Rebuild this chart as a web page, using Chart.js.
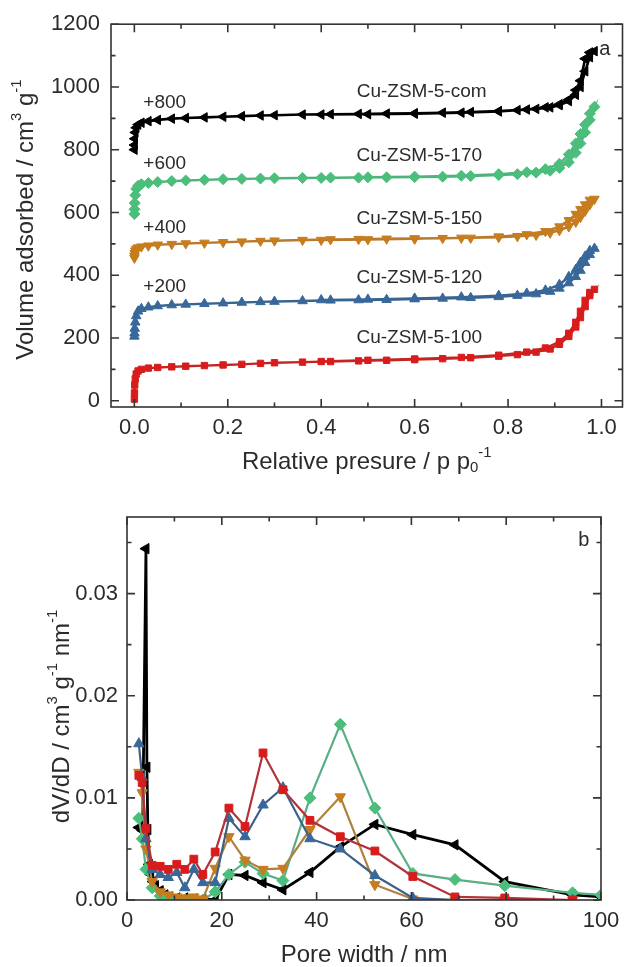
<!DOCTYPE html>
<html>
<head>
<meta charset="utf-8">
<script src="https://cdn.jsdelivr.net/npm/chart.js@4.4.0/dist/chart.umd.min.js"></script>
<style>
body { margin: 0; background: #fff; }
#wrap { position: relative; width: 629px; height: 967px; }
canvas { position: absolute; left: 0; }
</style>
</head>
<body>
<div id="wrap">
  <canvas id="isoChart" width="629" height="480" style="top:0"></canvas>
  <canvas id="psdChart" width="629" height="487" style="top:480px"></canvas>
</div>
<script>
// ---- (a) isotermas N2: pressão relativa ----
var pAds = [0.0001, 0.0003, 0.0008, 0.002, 0.004, 0.008, 0.015, 0.03, 0.05, 0.08, 0.11, 0.15, 0.19, 0.23, 0.27, 0.3,
            0.36, 0.42, 0.48, 0.54, 0.6, 0.66, 0.72, 0.78, 0.82, 0.86, 0.89, 0.91, 0.93, 0.945, 0.955, 0.965, 0.975, 0.985];
var pDes = [0.975, 0.965, 0.955, 0.945, 0.93, 0.91, 0.88, 0.84, 0.78, 0.7, 0.6, 0.5, 0.4];

// volumes como aparecem no gráfico (já com o deslocamento +200, +400...)
var v100Ads = [5, 25, 50, 70, 85, 95, 100, 104, 106, 108, 110, 112, 114, 116, 119, 121,
               123, 125, 127, 129, 131, 134, 137, 142, 147, 155, 165, 180, 205, 235, 265, 300, 335, 355];
var v100Des = [345, 320, 285, 250, 215, 188, 168, 155, 145, 138, 133, 129, 125];
var v120Ads = [205, 215, 230, 250, 270, 285, 293, 298, 302, 305, 307, 309, 311, 313, 315, 316,
               318, 320, 321, 322, 324, 326, 328, 331, 335, 340, 348, 358, 375, 395, 415, 440, 465, 485];
var v120Des = [478, 460, 440, 418, 395, 370, 352, 342, 335, 330, 326, 323, 321];
var v150Ads = [455, 462, 470, 478, 484, 488, 491, 494, 497, 499, 501, 503, 505, 507, 509, 510,
               512, 514, 515, 516, 517, 518, 519, 521, 524, 528, 535, 543, 555, 570, 585, 605, 625, 643];
var v150Des = [640, 625, 610, 595, 575, 555, 540, 530, 523, 519, 516, 514, 512];
var v170Ads = [595, 610, 630, 655, 675, 685, 690, 694, 697, 700, 702, 704, 706, 707, 708, 709,
               710, 711, 711, 712, 713, 714, 716, 719, 722, 727, 733, 742, 760, 790, 820, 855, 895, 937];
var v170Des = [915, 880, 850, 820, 785, 755, 738, 728, 722, 717, 714, 712, 710];
var vComAds = [800, 815, 835, 855, 870, 880, 886, 891, 895, 899, 901, 903, 905, 907, 909, 910,
               912, 913, 914, 915, 916, 918, 920, 923, 926, 930, 935, 942, 955, 975, 1000, 1050, 1095, 1114];
var vComDes = [1110, 1090, 1020, 990, 960, 945, 935, 928, 922, 918, 915, 913, 912];

var ticksPIso = [0, 0.2, 0.4, 0.6, 0.8, 1.0];
var ticksVIso = [0, 200, 400, 600, 800, 1000, 1200];

// ---- (b) distribuição de poros ----
var dPoro = [2.5, 3.2, 4.0, 5.3, 7.0, 8.7, 10.5, 12.2, 14.1, 16.0, 18.6, 21.5, 24.9, 28.7, 32.9, 38.6, 45.0, 52.3, 60.3, 69.2, 79.7, 94.0];
var psd100 = [0.0122, 0.0115, 0.0070, 0.0034, 0.0033, 0.0030, 0.0035, 0.0030, 0.0040, 0.0025, 0.0047, 0.0090, 0.0072, 0.0144, 0.0108, 0.0078, 0.0062, 0.0048, 0.0023, 0.0003, 0.0002, 0.0000];
var psd120 = [0.0153, 0.0120, 0.0060, 0.0030, 0.0025, 0.0022, 0.0027, 0.0012, 0.0030, 0.0017, 0.0017, 0.0080, 0.0062, 0.0093, 0.0110, 0.0060, 0.0050, 0.0024, 0.0002, 0.0000, 0.0000, 0.0000];
var psd150 = [0.0125, 0.0105, 0.0050, 0.0018, 0.0008, 0.0005, 0.0003, 0.0002, 0.0003, 0.0001, 0.0031, 0.0062, 0.0039, 0.0030, 0.0031, 0.0069, 0.0101, 0.0015, 0.0001, 0.0000, 0.0000, 0.0000];
var dPoro170 = [2.5, 3.2, 4.0, 5.3, 7.0, 8.7, 10.5, 12.2, 14.1, 16.0, 18.6, 21.5, 24.9, 28.7, 32.9, 38.6, 45.0, 52.3, 60.3, 69.2, 79.7, 94.0, 100];
var psd170 = [0.0080, 0.0060, 0.0030, 0.0012, 0.0004, 0.0002, 0.0000, 0.0000, 0.0000, 0.0000, 0.0008, 0.0025, 0.0037, 0.0026, 0.0019, 0.0100, 0.0172, 0.0090, 0.0026, 0.0020, 0.0014, 0.0007, 0.0005];
var dPoroCom = [2.5, 3.3, 4.0, 4.2, 4.4, 4.7, 5.0, 5.5, 6.0, 7.0, 8.0, 9.0, 10.5, 12.2, 14.1, 16.0, 18.6, 21.5, 24.9, 28.7, 32.9, 38.6, 45.0, 52.3, 60.3, 69.2, 79.7, 94.0, 100];
var psdCom = [0.0071, 0.0068, 0.0344, 0.0130, 0.0069, 0.0035, 0.0025, 0.0018, 0.0014, 0.0009, 0.0005, 0.0003, 0.0002, 0.0002, 0.0001, 0.0001, 0.0000, 0.0025, 0.0024, 0.0017, 0.0010, 0.0027, 0.0052, 0.0074, 0.0064, 0.0054, 0.0018, 0.0005, 0.0003];

var ticksDPsd = [0, 20, 40, 60, 80, 100];
var ticksVPsd = [0, 0.01, 0.02, 0.03];

var FONTE = "'Liberation Sans', Arial, sans-serif";
Chart.defaults.font.family = FONTE;
Chart.defaults.color = '#2b2b2b';

function pares(xs, ys) {
    return xs.map(function (x, i) { return { x: x, y: ys[i] }; });
}

function serie(dados, cor, corLinha, estilo, rot, raio, larg) {
    return {
        data: dados,
        showLine: true,
        borderColor: corLinha,
        backgroundColor: cor,
        pointBorderColor: cor,
        pointBackgroundColor: cor,
        pointStyle: estilo,
        rotation: rot,
        pointRadius: raio,
        borderWidth: larg,
        pointBorderWidth: 1
    };
}

// texto com sobrescrito/subscrito: partes = [[texto, 0|1|-1], ...]
function textoRico(ctx, partes, x, y, tam, vertical) {
    ctx.save();
    ctx.translate(x, y);
    if (vertical) ctx.rotate(-Math.PI / 2);
    var total = 0;
    partes.forEach(function (p) {
        ctx.font = (p[1] ? tam * 0.62 : tam) + 'px ' + FONTE;
        total += ctx.measureText(p[0]).width;
    });
    var cx = -total / 2;
    ctx.fillStyle = '#2b2b2b';
    ctx.textBaseline = 'middle';
    ctx.textAlign = 'left';
    partes.forEach(function (p) {
        ctx.font = (p[1] ? tam * 0.62 : tam) + 'px ' + FONTE;
        var dy = p[1] === 1 ? -tam * 0.38 : (p[1] === -1 ? tam * 0.25 : 0);
        ctx.fillText(p[0], cx, dy);
        cx += ctx.measureText(p[0]).width;
    });
    ctx.restore();
}

function marcas(ctx, escala, area, horiz, passoMenor) {
    var maiores = escala.ticks.map(function (t) { return t.value; });
    var k0 = Math.ceil(escala.min / passoMenor - 1e-9);
    for (var k = k0; k * passoMenor <= escala.max + 1e-9; k++) {
        var v = k * passoMenor;
        var maior = maiores.some(function (m) { return Math.abs(m - v) < passoMenor * 0.01; });
        var len = maior ? 8 : 4.5;
        var p = escala.getPixelForValue(v);
        ctx.beginPath();
        if (horiz) {
            ctx.moveTo(p, area.bottom); ctx.lineTo(p, area.bottom - len);
            ctx.moveTo(p, area.top); ctx.lineTo(p, area.top + len);
        } else {
            ctx.moveTo(area.left, p); ctx.lineTo(area.left + len, p);
            ctx.moveTo(area.right, p); ctx.lineTo(area.right - len, p);
        }
        ctx.stroke();
    }
}

var moldura = {
    id: 'moldura',
    afterDraw: function (chart, args, opts) {
        var ctx = chart.ctx, a = chart.chartArea;
        ctx.save();
        ctx.strokeStyle = '#333';
        ctx.lineWidth = 1.6;
        ctx.strokeRect(a.left, a.top, a.right - a.left, a.bottom - a.top);
        marcas(ctx, chart.scales.x, a, true, opts.menorX);
        marcas(ctx, chart.scales.y, a, false, opts.menorY);
        ctx.restore();

        // rótulos dentro do gráfico
        ctx.save();
        ctx.fillStyle = '#2b2b2b';
        ctx.textAlign = 'center';
        ctx.textBaseline = 'middle';
        (opts.rotulos || []).forEach(function (r) {
            ctx.font = r[3] + 'px ' + FONTE;
            ctx.fillText(r[0], chart.scales.x.getPixelForValue(r[1]), chart.scales.y.getPixelForValue(r[2]));
        });
        ctx.restore();

        // títulos dos eixos
        textoRico(ctx, opts.tituloX, (a.left + a.right) / 2, a.bottom + 55, 24, false);
        textoRico(ctx, opts.tituloY, opts.tituloYx, (a.top + a.bottom) / 2 + opts.tituloYdy, 24, true);
    }
};

function eixos(xMin, xMax, xTicks, xDec, yMin, yMax, yTicks, yDec, alturaX, larguraY, padY) {
    return {
        x: {
            type: 'linear', min: xMin, max: xMax,
            border: { display: false },
            grid: { display: false, drawTicks: false },
            afterBuildTicks: function (s) { s.ticks = xTicks.map(function (v) { return { value: v }; }); },
            ticks: {
                padding: 8, maxRotation: 0, autoSkip: false,
                font: { size: 22 },
                callback: function (v) { return Number(v).toFixed(xDec); }
            },
            afterFit: function (s) { s.height = alturaX; }
        },
        y: {
            type: 'linear', min: yMin, max: yMax,
            border: { display: false },
            grid: { display: false, drawTicks: false },
            afterBuildTicks: function (s) { s.ticks = yTicks.map(function (v) { return { value: v }; }); },
            ticks: {
                padding: padY, autoSkip: false,
                font: { size: 22 },
                callback: function (v) { return Number(v).toFixed(yDec); }
            },
            afterFit: function (s) { s.width = larguraY; }
        }
    };
}

// Gráfico (a)
var ctxIso = document.getElementById('isoChart').getContext('2d');
var isoChart = new Chart(ctxIso, {
    type: 'scatter',
    data: {
        datasets: [
            serie(pares(pAds.concat(pDes), v100Ads.concat(v100Des)), '#d81c1c', '#c42424', 'rect', 0, 4.5, 2.4),
            serie(pares(pAds.concat(pDes), v120Ads.concat(v120Des)), '#38689a', '#3a6490', 'triangle', 0, 5.5, 2.4),
            serie(pares(pAds.concat(pDes), v150Ads.concat(v150Des)), '#c77c1e', '#b97a2c', 'triangle', 180, 5.5, 2.4),
            serie(pares(pAds.concat(pDes), v170Ads.concat(v170Des)), '#4cbe7c', '#4fb27c', 'rectRot', 0, 5.5, 2.4),
            serie(pares(pAds.concat(pDes), vComAds.concat(vComDes)), '#000', '#000', 'triangle', 270, 5.5, 2.6)
        ]
    },
    options: {
        responsive: false,
        animation: false,
        layout: { padding: { top: 23, right: 2, left: 0, bottom: 0 } },
        scales: eixos(-0.05, 1.045, ticksPIso, 1, -20, 1200, ticksVIso, 0, 73, 111, 11),
        plugins: {
            legend: { display: false },
            tooltip: { enabled: false },
            moldura: {
                menorX: 0.1, menorY: 100,
                rotulos: [
                    ['+800', 0.065, 950, 19], ['+600', 0.065, 755, 19],
                    ['+400', 0.065, 552, 19], ['+200', 0.065, 362, 19],
                    ['Cu-ZSM-5-com', 0.615, 984, 19], ['Cu-ZSM-5-170', 0.61, 781, 19],
                    ['Cu-ZSM-5-150', 0.61, 581, 19], ['Cu-ZSM-5-120', 0.61, 391, 19],
                    ['Cu-ZSM-5-100', 0.61, 200, 19], ['a', 1.007, 1121, 20]
                ],
                tituloX: [['Relative presure / p p', 0], ['0', -1], ['-1', 1]],
                tituloY: [['Volume adsorbed / cm', 0], ['3', 1], [' g', 0], ['-1', 1]],
                tituloYx: 26, tituloYdy: 4
            }
        }
    },
    plugins: [moldura]
});

// Gráfico (b)
var ctxPsd = document.getElementById('psdChart').getContext('2d');
var psdChart = new Chart(ctxPsd, {
    type: 'scatter',
    data: {
        datasets: [
            serie(pares(dPoro, psd100), '#d81c1c', '#b23238', 'rect', 0, 5.5, 2.2),
            serie(pares(dPoro, psd120), '#38689a', '#3d6088', 'triangle', 0, 6, 2.2),
            serie(pares(dPoro, psd150), '#c77c1e', '#b0803e', 'triangle', 180, 6, 2.2),
            serie(pares(dPoro170, psd170), '#4cbe7c', '#5aae84', 'rectRot', 0, 6, 2.2),
            serie(pares(dPoroCom, psdCom), '#000', '#000', 'triangle', 270, 6, 2.8)
        ]
    },
    options: {
        responsive: false,
        animation: false,
        layout: { padding: { top: 37, right: 28, left: 0, bottom: 0 } },
        scales: eixos(0, 100, ticksDPsd, 0, 0, 0.0375, ticksVPsd, 2, 67, 127, 9),
        plugins: {
            legend: { display: false },
            tooltip: { enabled: false },
            moldura: {
                menorX: 10, menorY: 0.005,
                rotulos: [['b', 96.4, 0.0352, 20]],
                tituloX: [['Pore width / nm', 0]],
                tituloY: [['dV/dD / cm', 0], ['3', 1], [' g', 0], ['-1', 1], [' nm', 0], ['-1', 1]],
                tituloYx: 62, tituloYdy: 8
            }
        }
    },
    plugins: [moldura]
});
</script>
</body>
</html>
